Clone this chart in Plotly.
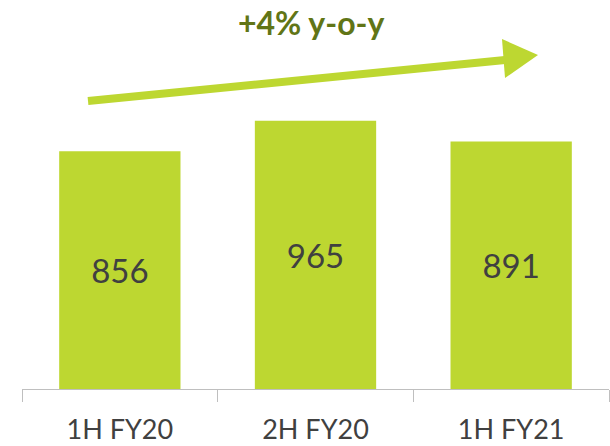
import plotly.graph_objects as go

# Half-year figures
periods = ["1H FY20", "2H FY20", "1H FY21"]
values = [856, 965, 891]
growth_label = "+4% y-o-y"

BAR_GREEN = "#BDD731"
TEXT_GREY = "#404040"
TITLE_OLIVE = "#617516"

W, H = 610, 446
ML, MR, MT, MB = 22, 1, 0, 57
pw, ph = W - ML - MR, H - MT - MB


def px(x, y):
    """Pixel position -> paper coordinates."""
    return (x - ML) / pw, (H - MB - y) / ph


fig = go.Figure(
    go.Bar(
        x=periods,
        y=values,
        marker=dict(color=BAR_GREEN, line=dict(width=0)),
        text=[str(v) for v in values],
        textposition="inside",
        insidetextanchor="middle",
        textfont=dict(family="Lato", size=33, color=TEXT_GREY),
        width=0.62,
    )
)

# growth arrow: shaft + triangular head
x0, y0 = px(88, 101)
x1, y1 = px(505, 60)
fig.add_shape(type="line", xref="paper", yref="paper", x0=x0, y0=y0, x1=x1, y1=y1,
              line=dict(color=BAR_GREEN, width=8))
a = px(502, 39)
b = px(538, 55)
c = px(505, 78)
fig.add_shape(type="path", xref="paper", yref="paper",
              path=f"M {a[0]} {a[1]} L {b[0]} {b[1]} L {c[0]} {c[1]} Z",
              fillcolor=BAR_GREEN, line=dict(width=0))

tx, ty = px(311, 22)
fig.add_annotation(xref="paper", yref="paper", x=tx, y=ty, text=f"<b>{growth_label}</b>",
                   showarrow=False, font=dict(family="Lato", size=32, color=TITLE_OLIVE),
                   xanchor="center", yanchor="middle")

fig.update_layout(
    width=W, height=H,
    margin=dict(l=ML, r=MR, t=MT, b=MB, autoexpand=False),
    paper_bgcolor="white", plot_bgcolor="white",
    showlegend=False,
    uniformtext=dict(mode=False),
    xaxis=dict(
        range=[-0.5, 2.5],
        automargin=False,
        showline=True, linecolor="#BFBFBF", linewidth=1,
        ticks="outside", tickson="boundaries", ticklen=12, tickcolor="#BFBFBF",
        tickfont=dict(family="Lato", size=27, color=TEXT_GREY),
        ticklabelstandoff=17,
        showgrid=False, zeroline=False,
    ),
    yaxis=dict(range=[0, 1400], visible=False, showgrid=False, zeroline=False),
)

fig.write_html("out.html")
